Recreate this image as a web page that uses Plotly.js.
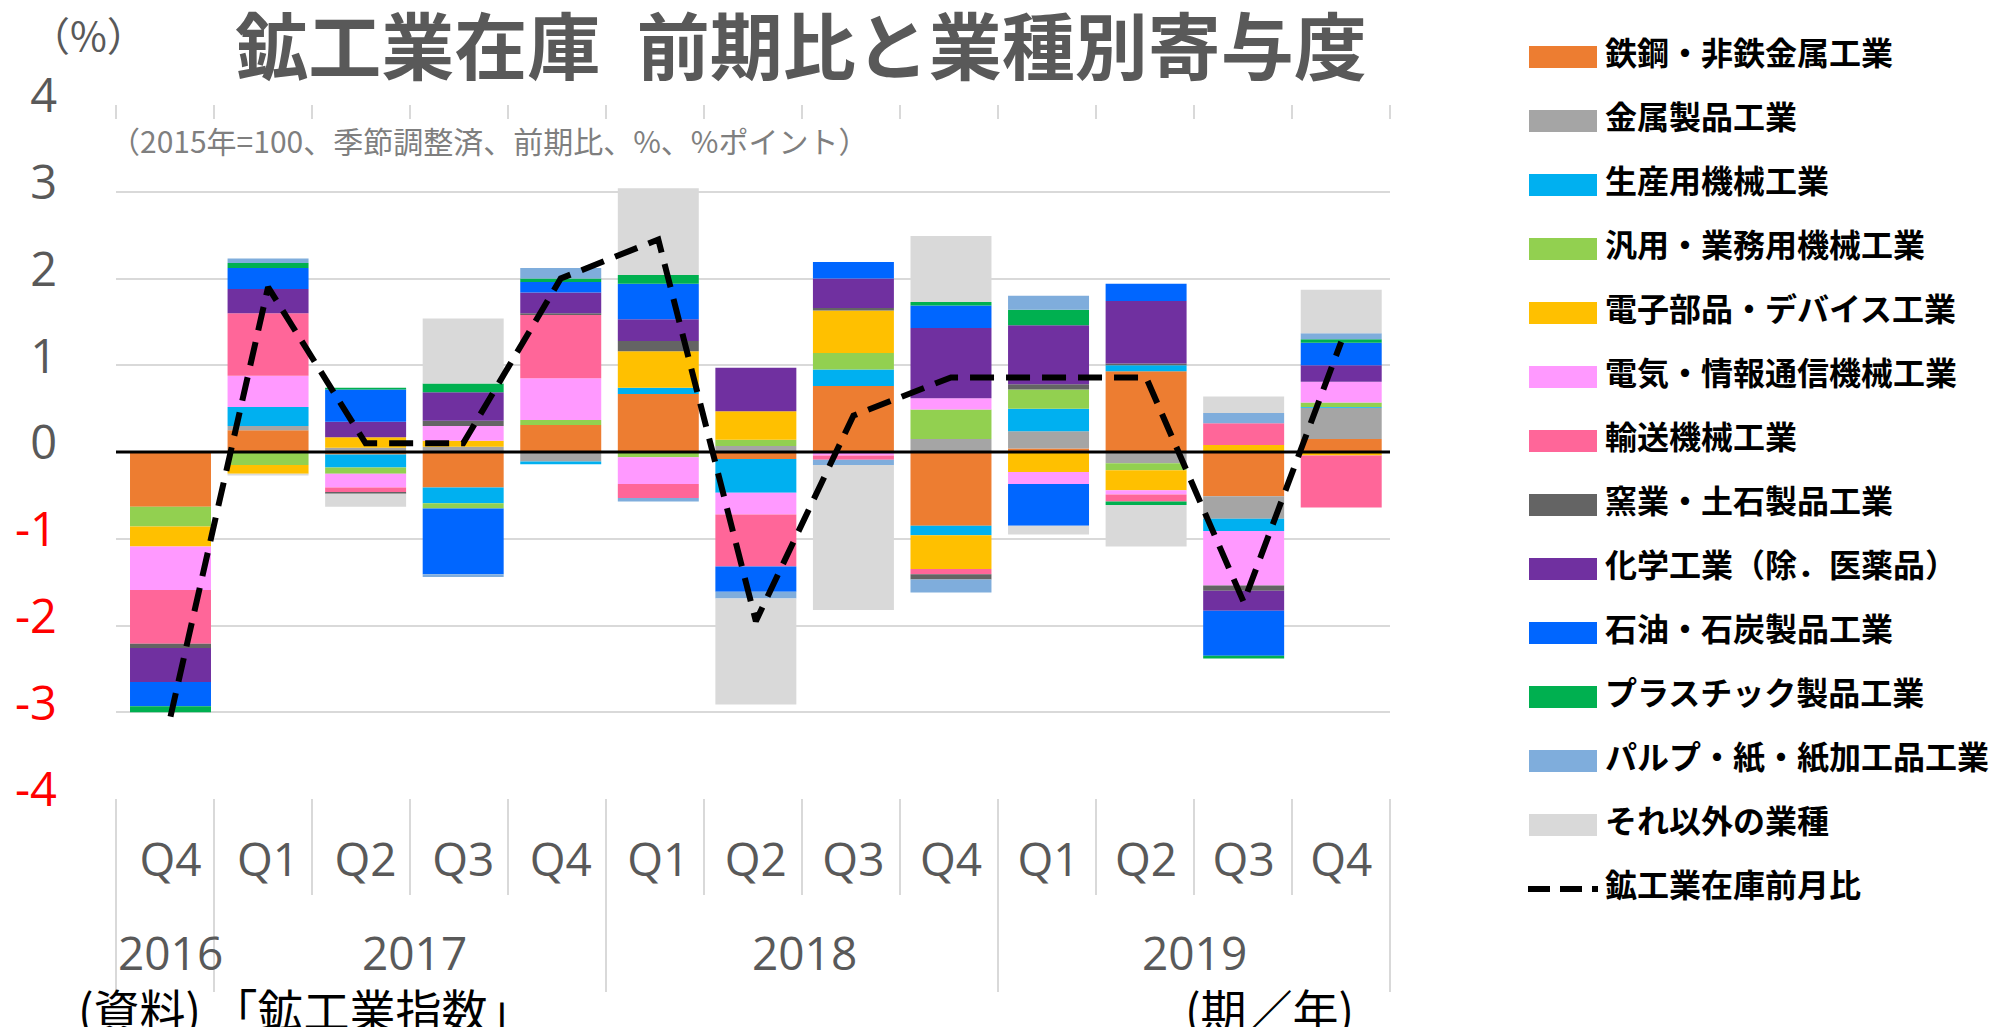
<!DOCTYPE html>
<html>
<head>
<meta charset="utf-8">
<script src="https://cdn.plot.ly/plotly-3.0.1.min.js"></script>
<style>
  html, body { margin: 0; padding: 0; background: #fff; }
  #myPlot { width: 1992px; height: 1027px; }
</style>
</head>
<body>
<div id="myPlot"></div>
<script>
// Categories (quarter / year)
var years = ['2016', '2017', '2017', '2017', '2017', '2018', '2018', '2018', '2018', '2019', '2019', '2019', '2019'];
var quarters = ['Q4', 'Q1', 'Q2', 'Q3', 'Q4', 'Q1', 'Q2', 'Q3', 'Q4', 'Q1', 'Q2', 'Q3', 'Q4'];

// Industry names and colours
var industries = ['鉄鋼・非鉄金属工業', '金属製品工業', '生産用機械工業', '汎用・業務用機械工業',
  '電子部品・デバイス工業', '電気・情報通信機械工業', '輸送機械工業', '窯業・土石製品工業',
  '化学工業（除．医薬品）', '石油・石炭製品工業', 'プラスチック製品工業', 'パルプ・紙・紙加工品工業', 'それ以外の業種'];
var colors = ['#ED7D31', '#A5A5A5', '#00B0F0', '#92D050', '#FFC000', '#FF99FF', '#FF6699',
  '#646464', '#7030A0', '#0066FF', '#00B050', '#7FADDC', '#D9D9D9'];
var lineName = '鉱工業在庫前月比';

// Contributions (%pt)
var tekko    = [-0.63, 0.25, -0.03, -0.41, 0.31, 0.67, -0.08, 0.76, -0.85, 0.04, 0.93, -0.51, 0.15];
var kinzoku  = [0, 0.05, 0.05, 0.06, -0.11, 0, 0.07, 0, 0.15, 0.20, -0.13, -0.26, 0.36];
var seisan   = [0, 0.22, -0.15, -0.18, -0.03, 0.07, -0.39, 0.19, -0.11, 0.26, 0.07, -0.14, 0.01];
var hanyo    = [-0.23, -0.15, -0.07, -0.06, 0.06, -0.06, 0.07, 0.19, 0.34, 0.22, -0.08, 0, 0.05];
var denshi   = [-0.23, -0.10, 0.12, 0.07, 0, 0.42, 0.33, 0.49, -0.39, -0.23, -0.23, 0.08, -0.04];
var denki    = [-0.50, 0.36, -0.16, 0.17, 0.48, -0.31, -0.25, -0.04, 0.13, -0.14, -0.05, -0.63, 0.24];
var yuso     = [-0.62, 0.72, -0.05, 0, 0.73, -0.16, -0.60, -0.05, -0.06, 0, -0.08, 0.25, -0.60];
var yogyo    = [-0.05, 0, -0.02, 0.06, 0.02, 0.12, 0, 0.03, -0.06, 0.06, 0.02, -0.06, 0];
var kagaku   = [-0.39, 0.28, 0.18, 0.33, 0.24, 0.25, 0.50, 0.34, 0.81, 0.68, 0.72, -0.23, 0.19];
var sekiyu   = [-0.28, 0.24, 0.37, -0.76, 0.12, 0.41, -0.29, 0.19, 0.26, -0.48, 0.20, -0.52, 0.26];
var plastic  = [-0.07, 0.06, 0.02, 0.10, 0.04, 0.10, 0, 0, 0.04, 0.18, -0.04, -0.03, 0.04];
var pulp     = [0, 0.05, 0, -0.03, 0.12, -0.04, -0.08, -0.06, -0.15, 0.16, 0, 0.12, 0.07];
var sonota   = [0, -0.02, -0.15, 0.75, 0, 1.00, -1.22, -1.67, 0.76, -0.10, -0.48, 0.19, 0.50];
var seriesValues = [tekko, kinzoku, seisan, hanyo, denshi, denki, yuso, yogyo, kagaku, sekiyu, plastic, pulp, sonota];

// Total change of inventory (%)
var totalChange = [-3.05, 1.9, 0.1, 0.1, 2.0, 2.45, -1.95, 0.42, 0.86, 0.86, 0.86, -1.73, 1.27];

var yTicks = [-4, -3, -2, -1, 0, 1, 2, 3, 4];

// plot area in pixels
var plotL = 116, plotR = 1390, plotT = 105, plotB = 799;
function px(x) { return (x - plotL) / (plotR - plotL); }
function py(y) { return (plotB - y) / (plotB - plotT); }

var keys = years.map(function (y, i) { return y + ' ' + quarters[i]; });

var data = industries.map(function (name, i) {
  return {
    type: 'bar',
    x: keys,
    y: seriesValues[i],
    name: name,
    marker: { color: colors[i], line: { width: 0 } }
  };
});
data.push({
  type: 'scatter',
  mode: 'lines',
  x: keys,
  y: totalChange,
  name: lineName,
  line: { color: '#000000', width: 6, dash: '24px,12px' }
});

var shapes = [];
var annotations = [];

// zero line on top of the bars
shapes.push({ type: 'line', xref: 'paper', yref: 'y', x0: 0, x1: 1, y0: 0, y1: 0,
  line: { color: '#000000', width: 3 }, layer: 'above' });

// category separators below the plot, ticks hanging from the top line
var n = quarters.length;
for (var k = 0; k <= n; k++) {
  var yearEdge = (k === 0 || k === n || years[k] !== years[k - 1]);
  shapes.push({ type: 'line', xref: 'paper', yref: 'paper', x0: k / n, x1: k / n,
    y0: 0, y1: py(yearEdge ? 992 : 895), line: { color: '#d9d9d9', width: 2 } });
  shapes.push({ type: 'line', xref: 'paper', yref: 'paper', x0: k / n, x1: k / n,
    y0: 1, y1: py(119), line: { color: '#d9d9d9', width: 2 } });
}

// year labels centred under their quarters
var yearList = years.filter(function (y, i) { return years.indexOf(y) === i; });
yearList.forEach(function (yr) {
  var idx = [];
  years.forEach(function (y, i) { if (y === yr) idx.push(i); });
  var mid = idx.reduce(function (a, b) { return a + b; }, 0) / idx.length;
  annotations.push({ text: yr, xref: 'x', yref: 'paper', x: mid, y: py(952),
    xanchor: 'center', yanchor: 'middle', showarrow: false,
    font: { family: 'Open Sans', size: 46, color: '#595959' } });
});

// legend drawn by hand (wide swatches)
var legendTop = 57, legendStep = 64;
industries.forEach(function (name, i) {
  var cy = legendTop + legendStep * i;
  shapes.push({ type: 'rect', xref: 'paper', yref: 'paper', x0: px(1529), x1: px(1597),
    y0: py(cy + 11), y1: py(cy - 11), fillcolor: colors[i], line: { width: 0 } });
  annotations.push({ text: name, xref: 'paper', yref: 'paper', x: px(1603), y: py(cy - 6),
    xanchor: 'left', yanchor: 'middle', showarrow: false,
    font: { family: 'Noto Sans CJK JP', size: 32, color: '#000000', weight: 'bold' } });
});
var lineY = legendTop + legendStep * industries.length;
shapes.push({ type: 'line', xref: 'paper', yref: 'paper', x0: px(1528), x1: px(1598),
  y0: py(lineY), y1: py(lineY), line: { color: '#000000', width: 6, dash: '22px,10px' } });
annotations.push({ text: lineName, xref: 'paper', yref: 'paper', x: px(1603), y: py(lineY - 6),
  xanchor: 'left', yanchor: 'middle', showarrow: false,
  font: { family: 'Noto Sans CJK JP', size: 32, color: '#000000', weight: 'bold' } });

// texts
annotations.push({ text: '（%）', xref: 'paper', yref: 'paper', x: px(88), y: py(34),
  xanchor: 'center', yanchor: 'middle', showarrow: false,
  font: { family: 'Noto Sans CJK JP', size: 40, color: '#595959' } });
annotations.push({ text: '（2015年=100、季節調整済、前期比、%、%ポイント）', xref: 'paper', yref: 'paper',
  x: px(108), y: py(140), xanchor: 'left', yanchor: 'middle', showarrow: false,
  font: { family: 'Noto Sans CJK JP', size: 30, color: '#7f7f7f' } });
annotations.push({ text: '(資料) 「鉱工業指数」', xref: 'paper', yref: 'paper',
  x: px(76), y: py(1008), xanchor: 'left', yanchor: 'middle', showarrow: false,
  font: { family: 'Noto Sans CJK JP', size: 46, color: '#000000' } });
annotations.push({ text: '(期／年)', xref: 'paper', yref: 'paper',
  x: px(1356), y: py(1008), xanchor: 'right', yanchor: 'middle', showarrow: false,
  font: { family: 'Noto Sans CJK JP', size: 46, color: '#000000' } });

var layout = {
  width: 1992,
  height: 1027,
  margin: { l: plotL, r: 1992 - plotR, t: plotT, b: 1027 - plotB },
  paper_bgcolor: '#ffffff',
  plot_bgcolor: '#ffffff',
  title: {
    text: '鉱工業在庫\u2002前期比と業種別寄与度',
    x: 801 / 1992, xanchor: 'center', xref: 'container',
    y: 1 - 48 / 1027, yanchor: 'middle', yref: 'container',
    font: { family: 'Noto Sans CJK JP', size: 73, color: '#595959', weight: 'bold' }
  },
  barmode: 'relative',
  bargap: 0.17,
  showlegend: false,
  xaxis: {
    type: 'category',
    tickmode: 'array',
    tickvals: keys,
    ticktext: quarters,
    showgrid: false,
    zeroline: false,
    showline: false,
    ticks: '',
    ticklabelstandoff: 30,
    tickfont: { family: 'Open Sans', size: 46, color: '#595959' }
  },
  yaxis: {
    range: [-4, 4],
    tickmode: 'array',
    tickvals: yTicks,
    ticktext: yTicks.map(function (v) {
      return v < 0 ? '<span style="color:#ff0000">' + v + '</span>' : String(v);
    }),
    showgrid: true,
    gridcolor: '#d9d9d9',
    gridwidth: 2,
    zeroline: false,
    showline: false,
    ticks: '',
    ticklabelstandoff: 58,
    ticklabelshift: -9,
    tickfont: { family: 'Open Sans', size: 47, color: '#595959' }
  },
  shapes: shapes,
  annotations: annotations
};

Plotly.newPlot('myPlot', data, layout, { displayModeBar: false, staticPlot: true });
</script>
</body>
</html>
